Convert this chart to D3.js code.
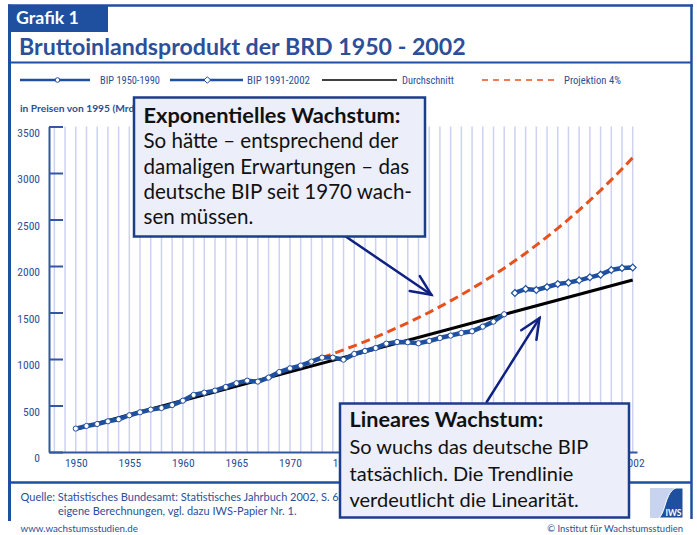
<!DOCTYPE html>
<html>
<head>
<meta charset="utf-8">
<script src="https://cdn.jsdelivr.net/npm/d3@7"></script>
<style>
  body { margin: 0; background: #fff; }
  svg { display: block; }
  text { font-family: "Lato", "Open Sans", sans-serif; }
  .cond { font-family: "Liberation Sans Narrow", "Roboto Condensed", "Liberation Sans", sans-serif; }
</style>
</head>
<body>
<svg id="chart" width="697" height="535"></svg>
<script>
// --- data (Mrd. Euro, prices of 1995) ---
const years1 = d3.range(1950, 1991);
const bip1950_1990 = [252, 280, 301, 330, 352, 395, 427, 456, 473, 505,
  552, 613, 638, 660, 699, 739, 767, 757, 800, 860,
  900, 929, 972, 1015, 1015, 993, 1054, 1086, 1118, 1165,
  1183, 1180, 1169, 1194, 1226, 1252, 1280, 1298, 1348, 1402, 1481];

const years2 = d3.range(1991, 2003);
const bip1991_2002 = [1710, 1753, 1742, 1774, 1806, 1821, 1846, 1878, 1907, 1957, 1978, 1983];

const trendYears = [1950, 2002];
const trendValues = [245, 1850];

const projYears = d3.range(1973, 2003);
const projValues = [1015, 1056, 1098, 1142, 1187, 1235, 1284, 1336, 1389, 1445,
  1502, 1563, 1625, 1690, 1758, 1828, 1901, 1977, 2056, 2138,
  2224, 2313, 2405, 2501, 2601, 2705, 2814, 2926, 3043, 3165];

const yTicks = [0, 500, 1000, 1500, 2000, 2500, 3000, 3500];
// 1980-1995 sit under the callout box in the picture
const xTicks = [1950, 1955, 1960, 1965, 1970, 1975, 2002];
const gridYears = d3.range(1948, 2003);

const blue = '#1f4f9f';
const textBlue = '#2c4f99';
const gridCol = '#cdd1f2';
const navy = '#0f2182';
const red = '#e8501c';

const svg = d3.select('#chart');

// clip areas for texts that run under the callout boxes
const defs = svg.append('defs');
defs.append('clipPath').attr('id', 'clipTop')
  .append('rect').attr('x', 0).attr('y', 90).attr('width', 133).attr('height', 30);
defs.append('clipPath').attr('id', 'clipBottom')
  .append('rect').attr('x', 0).attr('y', 440).attr('width', 339).attr('height', 90);

// shrink/grow font so a text gets the width measured in the picture
function fit(sel, w) {
  const fs = parseFloat(sel.attr('font-size'));
  const l = sel.node().getComputedTextLength();
  const ns = fs * w / l;
  sel.attr('font-size', ns);
  return ns;
}

// frame
svg.append('line').attr('x1', 8).attr('x2', 693).attr('y1', 5.5).attr('y2', 5.5)
  .attr('stroke', blue).attr('stroke-width', 2.5);
svg.append('line').attr('x1', 9.5).attr('x2', 9.5).attr('y1', 4.5).attr('y2', 521)
  .attr('stroke', blue).attr('stroke-width', 3);
svg.append('line').attr('x1', 691.5).attr('x2', 691.5).attr('y1', 4.5).attr('y2', 519)
  .attr('stroke', blue).attr('stroke-width', 2.5);
svg.append('line').attr('x1', 9).attr('x2', 692).attr('y1', 62.5).attr('y2', 62.5)
  .attr('stroke', blue).attr('stroke-width', 2);
svg.append('line').attr('x1', 9).attr('x2', 692).attr('y1', 482.5).attr('y2', 482.5)
  .attr('stroke', blue).attr('stroke-width', 2.5);

svg.append('rect').attr('x', 9).attr('y', 5).attr('width', 99).attr('height', 27).attr('fill', blue);
const tab = svg.append('text').attr('x', 16).attr('y', 24).attr('font-size', 16)
  .attr('font-weight', 'bold').attr('fill', '#fff').text('Grafik 1');
fit(tab, 63);

const title = svg.append('text').attr('x', 19).attr('y', 55).attr('font-size', 21)
  .attr('font-weight', 'bold').attr('fill', textBlue)
  .text('Bruttoinlandsprodukt der BRD 1950 - 2002');
fit(title, 447);

// legend
const leg = svg.append('g');
leg.append('line').attr('x1', 20).attr('x2', 90).attr('y1', 80).attr('y2', 80)
  .attr('stroke', blue).attr('stroke-width', 2.5);
leg.append('circle').attr('cx', 57.5).attr('cy', 80).attr('r', 2.3)
  .attr('fill', '#fff').attr('stroke', blue).attr('stroke-width', 1);
leg.append('line').attr('x1', 170).attr('x2', 243).attr('y1', 80).attr('y2', 80)
  .attr('stroke', blue).attr('stroke-width', 2.5);
leg.append('path').attr('d', 'M207.3,76.7 L210.6,80 L207.3,83.3 L204,80 Z')
  .attr('fill', '#fff').attr('stroke', blue).attr('stroke-width', 1);
leg.append('line').attr('x1', 322).attr('x2', 397).attr('y1', 80).attr('y2', 80)
  .attr('stroke', '#000').attr('stroke-width', 1.5);
leg.append('line').attr('x1', 482).attr('x2', 558).attr('y1', 80).attr('y2', 80)
  .attr('stroke', red).attr('stroke-width', 1.5).attr('stroke-dasharray', '6,5');
const legItems = [
  ['BIP 1950-1990', 100, 60],
  ['BIP 1991-2002', 247, 63],
  ['Durchschnitt', 402, 52],
  ['Projektion 4%', 564, 57]
];
legItems.forEach(([t, x, w]) => {
  const s = leg.append('text').attr('class', 'cond').attr('x', x).attr('y', 84)
    .attr('font-size', 11).attr('fill', textBlue).text(t);
  fit(s, w);
});

// scales
const x = d3.scaleLinear().domain([1947.5, 2002.4]).range([49, 637]);
const y = d3.scaleLinear().domain([0, 3500]).range([452, 126.5]);

// year gridlines
svg.append('g').selectAll('line').data(gridYears).enter().append('line')
  .attr('x1', d => x(d)).attr('x2', d => x(d))
  .attr('y1', y(3500)).attr('y2', y(0))
  .attr('stroke', gridCol).attr('stroke-width', 1.5);

// axes
const yAxis = svg.append('g').attr('transform', `translate(${x.range()[0]},0)`)
  .call(d3.axisLeft(y).tickValues(yTicks).tickSize(-14).tickSizeOuter(0).tickPadding(9)
    .tickFormat(d3.format('d')));
yAxis.selectAll('path, line').attr('stroke', '#3557a3').attr('stroke-width', 2);
yAxis.selectAll('text').attr('class', 'cond').attr('font-size', 11.5)
  .attr('fill', textBlue).attr('dy', '0.83em');

const xAxis = svg.append('g').attr('transform', `translate(0,${y(0)})`)
  .call(d3.axisBottom(x).tickValues(xTicks).tickSize(0).tickPadding(6.5)
    .tickFormat(d3.format('d')));
xAxis.select('path').attr('stroke', '#3557a3').attr('stroke-width', 2);
xAxis.selectAll('text').attr('class', 'cond').attr('font-size', 11.5).attr('fill', textBlue);
xAxis.selectAll('.tick').filter(d => d === 1975).attr('clip-path', 'url(#clipBottomLocal)');
// 1975 label runs under the lower box: clip it in axis coordinates
defs.append('clipPath').attr('id', 'clipBottomLocal')
  .append('rect').attr('x', -30).attr('y', -5).attr('width', 339 - x(1975) + 30).attr('height', 30);

// y label (the end is hidden by the upper box)
const ylab = svg.append('text').attr('x', 20).attr('y', 112).attr('font-size', 10)
  .attr('font-weight', 'bold').attr('fill', textBlue).text('in Preisen von 1995');
const ys = fit(ylab, 90);
ylab.text('in Preisen von 1995 (Mrd. Euro)').attr('font-size', ys)
  .attr('clip-path', 'url(#clipTop)');

// series
const line = d3.line().x(d => x(d[0])).y(d => y(d[1]));

svg.append('path').datum(d3.zip(trendYears, trendValues)).attr('d', line)
  .attr('fill', 'none').attr('stroke', '#000').attr('stroke-width', 3);

svg.append('path').datum(d3.zip(projYears, projValues)).attr('d', line)
  .attr('fill', 'none').attr('stroke', red).attr('stroke-width', 3)
  .attr('stroke-dasharray', '9,5');

const s1 = d3.zip(years1, bip1950_1990);
svg.append('path').datum(s1).attr('d', line)
  .attr('fill', 'none').attr('stroke', blue).attr('stroke-width', 4.5);
svg.append('g').selectAll('circle').data(s1).enter().append('circle')
  .attr('cx', d => x(d[0])).attr('cy', d => y(d[1])).attr('r', 2.6)
  .attr('fill', '#fff').attr('stroke', blue).attr('stroke-width', 1);

const s2 = d3.zip(years2, bip1991_2002);
svg.append('path').datum(s2).attr('d', line)
  .attr('fill', 'none').attr('stroke', blue).attr('stroke-width', 4.5);
svg.append('g').selectAll('path').data(s2).enter().append('path')
  .attr('d', d3.symbol(d3.symbolDiamond2, 30))
  .attr('transform', d => `translate(${x(d[0])},${y(d[1])})`)
  .attr('fill', '#fff').attr('stroke', blue).attr('stroke-width', 1.2);

// footer source text (end runs under the lower box)
const q1 = svg.append('text').attr('x', 20.5).attr('y', 501).attr('font-size', 11)
  .attr('fill', textBlue).attr('clip-path', 'url(#clipBottom)')
  .text('Quelle: Statistisches Bundesamt: Statistisches Jahrbuch 2002, S. 632;');
const q2 = svg.append('text').attr('x', 58).attr('y', 514.5).attr('font-size', 11)
  .attr('fill', textBlue).text('eigene Berechnungen, vgl. dazu IWS-Papier Nr. 1.');
const qs = fit(q2, 239);
q1.attr('font-size', qs);

// arrows
function arrow(x0, y0, x1, y1) {
  const g = svg.append('g').attr('stroke', navy).attr('stroke-width', 2.5)
    .attr('fill', 'none').attr('stroke-linecap', 'round');
  g.append('line').attr('x1', x0).attr('y1', y0).attr('x2', x1).attr('y2', y1);
  const a = Math.atan2(y0 - y1, x0 - x1);
  const L = 22, da = 0.42;
  g.append('path').attr('d',
    `M${x1 + L * Math.cos(a + da)},${y1 + L * Math.sin(a + da)} L${x1},${y1} L${x1 + L * Math.cos(a - da)},${y1 + L * Math.sin(a - da)}`);
}
arrow(345, 236, x(1983.2), y(1690));
arrow(486.7, 402, x(1993.3), y(1440));

// callout boxes
function box(bx, by, bw, bh, lines, y0, step, headW, refIdx, refW) {
  svg.append('rect').attr('x', bx).attr('y', by).attr('width', bw).attr('height', bh)
    .attr('fill', '#eceef9').attr('stroke', '#1c3c8c').attr('stroke-width', 2.5);
  const head = svg.append('text').attr('x', bx + 9.5).attr('y', y0).attr('font-size', 20)
    .attr('font-weight', 'bold').attr('fill', '#111').text(lines[0]);
  fit(head, headW);
  const ts = lines.slice(1).map((t, i) => svg.append('text').attr('x', bx + 9.5)
    .attr('y', y0 + step * (i + 1)).attr('font-size', 20).attr('fill', '#111').text(t));
  const fs = fit(ts[refIdx], refW);
  ts.forEach(t => t.attr('font-size', fs));
}
box(134, 97.5, 291, 139, ['Exponentielles Wachstum:', 'So hätte – entsprechend der',
  'damaligen Erwartungen – das', 'deutsche BIP seit 1970 wach-', 'sen müssen.'],
  123, 25.3, 257, 0, 255);
box(340, 403.5, 289, 114, ['Lineares Wachstum:', 'So wuchs das deutsche BIP',
  'tatsächlich. Die Trendlinie', 'verdeutlicht die Linearität.'],
  427, 26.8, 194, 0, 239);

const www = svg.append('text').attr('x', 20.5).attr('y', 531.5).attr('font-size', 10)
  .attr('fill', textBlue).text('www.wachstumsstudien.de');
fit(www, 117.6);
const inst = svg.append('text').attr('x', 683).attr('y', 531.5).attr('font-size', 10)
  .attr('text-anchor', 'end').attr('fill', textBlue).text('© Institut für Wachstumsstudien');
fit(inst, 136);

// IWS logo
const logo = svg.append('g');
logo.append('rect').attr('x', 650).attr('y', 488).attr('width', 33).attr('height', 30).attr('fill', '#c8d3ef');
logo.append('path').attr('d', 'M676,488 L683,488 L683,518 L659,518 C664,513 665,503 668,497 C670,492 673,489 676,488 Z')
  .attr('fill', blue).attr('stroke', '#fff').attr('stroke-width', 1);
logo.append('text').attr('x', 681.5).attr('y', 516).attr('text-anchor', 'end')
  .attr('font-size', 8.5).attr('font-weight', 'bold').attr('fill', '#fff').text('IWS');
</script>
</body>
</html>
